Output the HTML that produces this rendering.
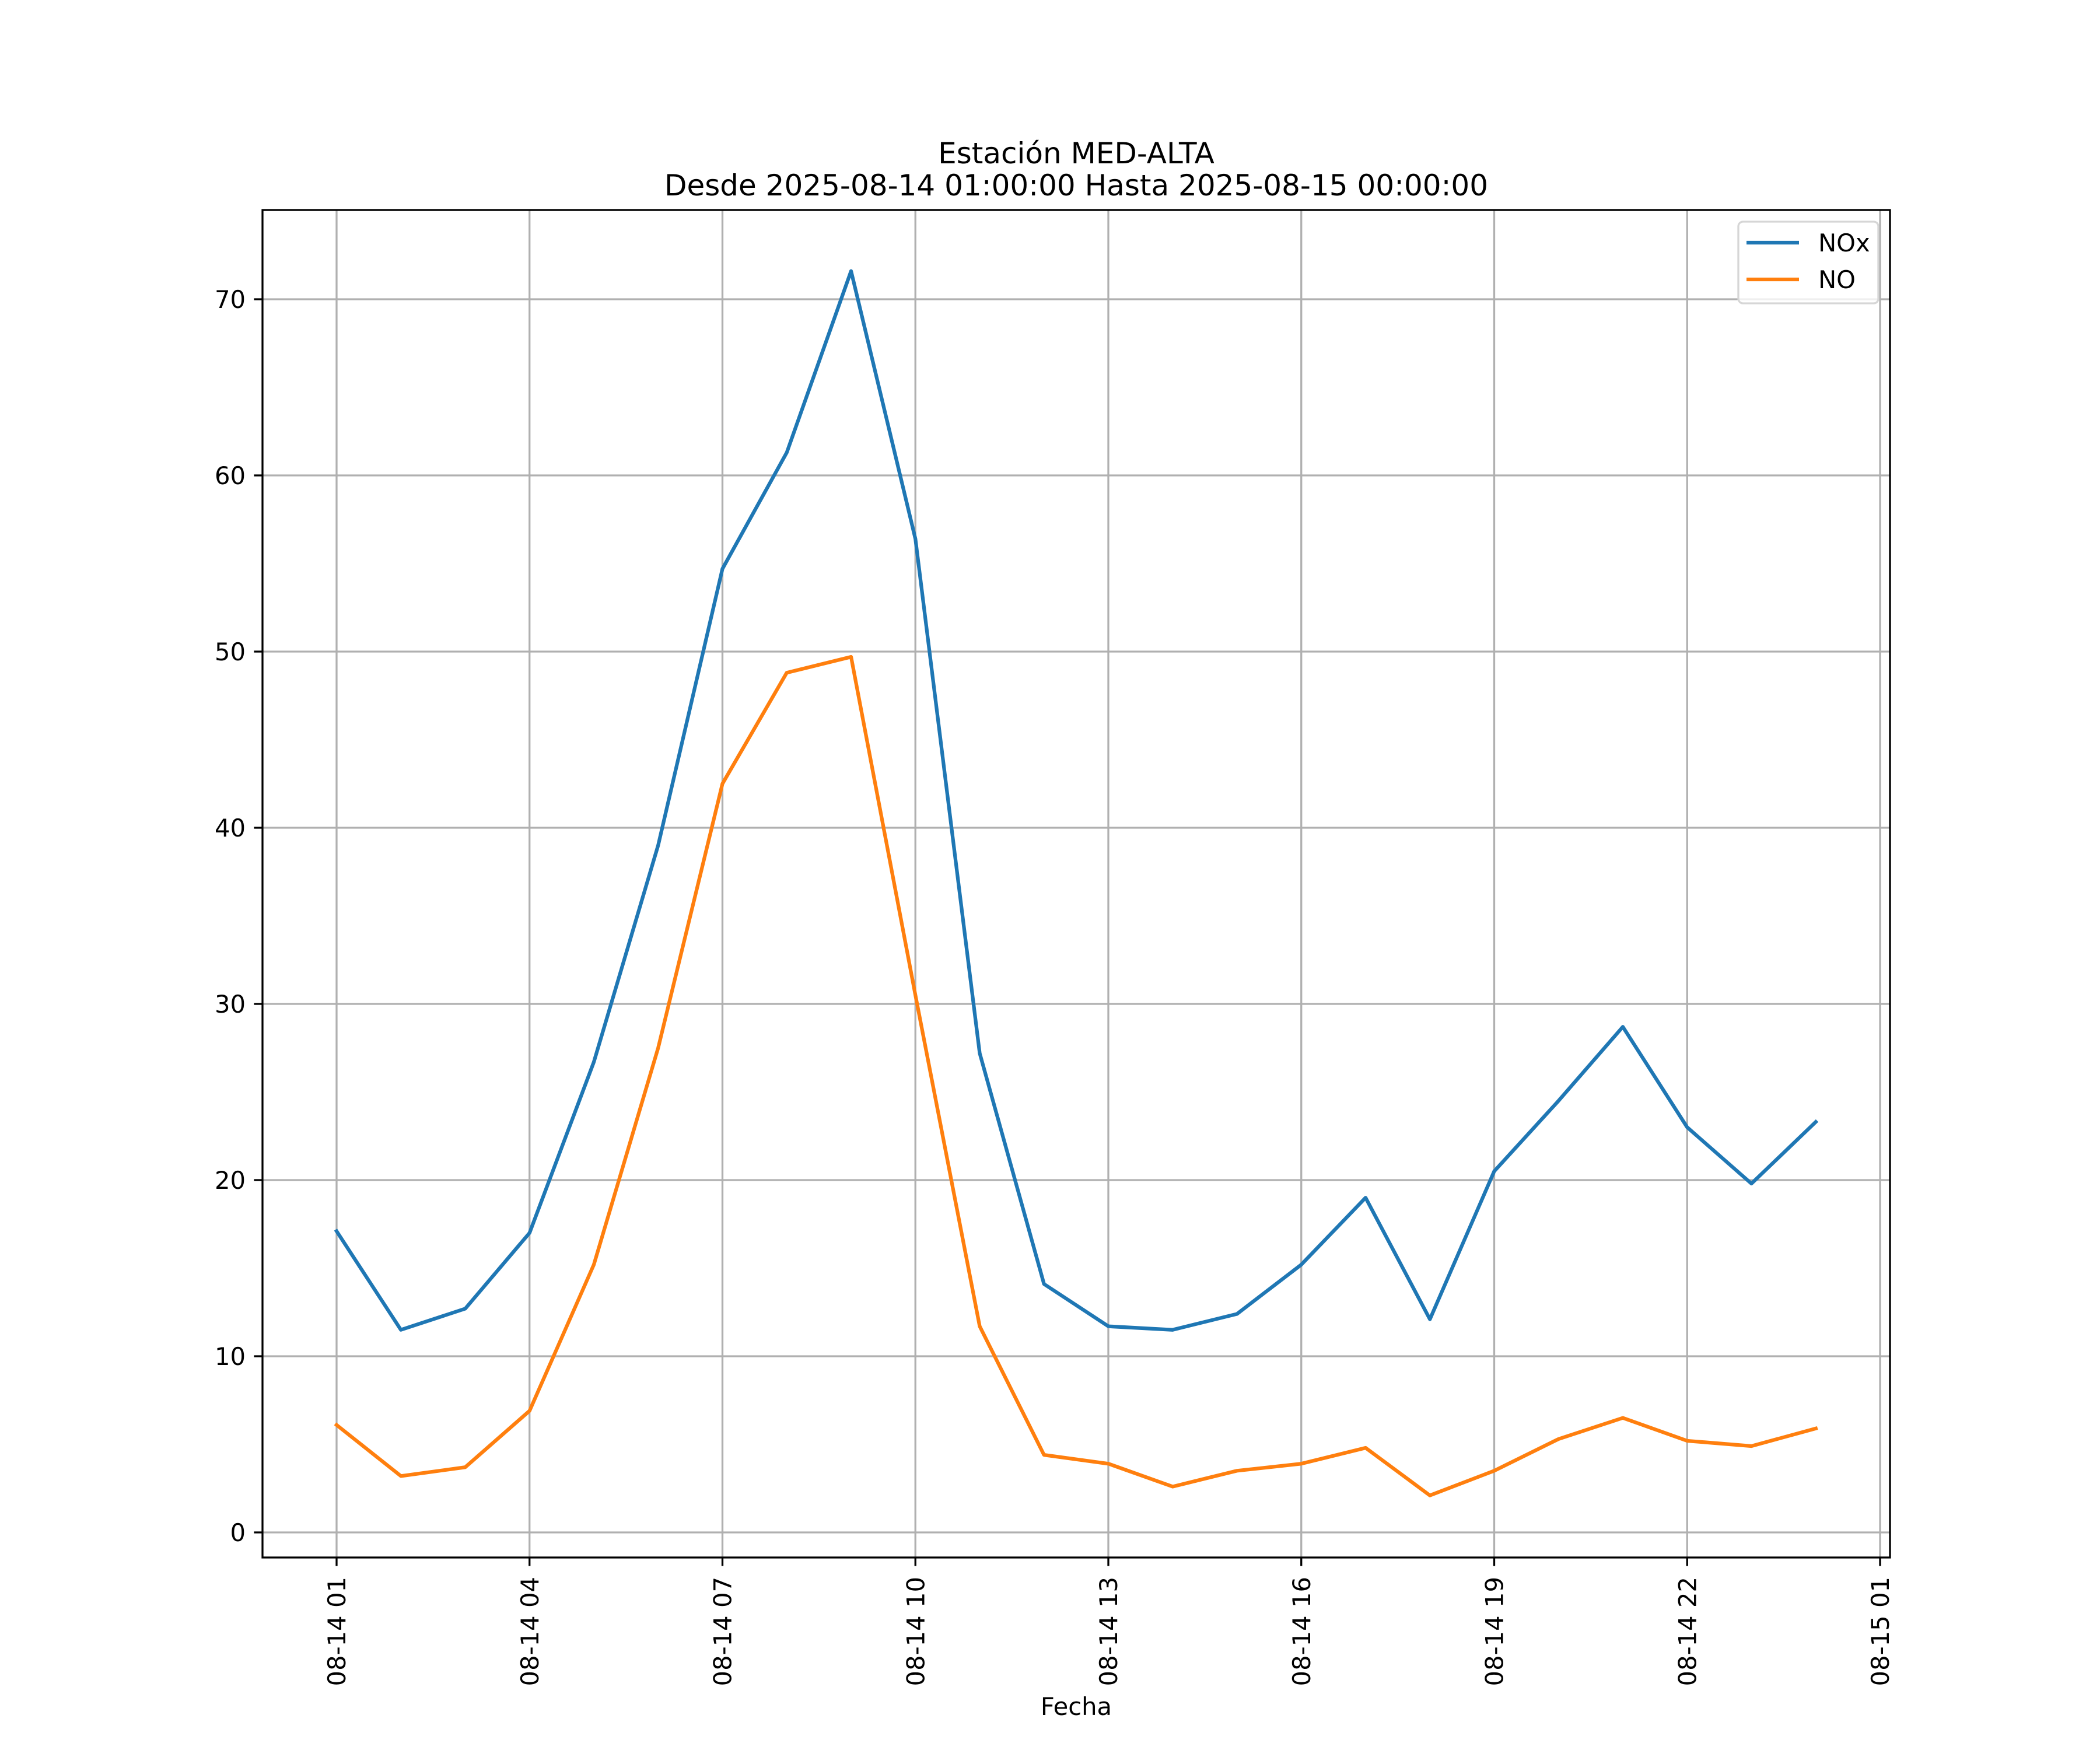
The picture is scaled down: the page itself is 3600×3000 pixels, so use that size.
<!DOCTYPE html>
<html><head><meta charset="utf-8"><style>
html,body{margin:0;padding:0;background:#fff;}
svg{display:block;font-family:"DejaVu Sans","Liberation Sans",sans-serif;}
</style></head><body>
<svg id="chart" width="3600" height="3000" viewBox="0 0 3600 3000" xmlns="http://www.w3.org/2000/svg">
<rect x="0" y="0" width="3600" height="3000" fill="#fff"/>
<g id="grid"></g>
<g id="series"></g>
<g id="axes"></g>
<text x="1845" y="280" font-size="50" text-anchor="middle">Estación MED-ALTA</text>
<text x="1845" y="335" font-size="50" text-anchor="middle">Desde 2025-08-14 01:00:00 Hasta 2025-08-15 00:00:00</text>
<text x="1845" y="2940" font-size="41.7" text-anchor="middle">Fecha</text>
<g>
<rect x="2980" y="380" width="240" height="140" rx="8" fill="#fff" fill-opacity="0.8" stroke="#d6d6d6" stroke-width="3.3"/>
<line x1="2994" y1="416" x2="3084" y2="416" stroke="#1f77b4" stroke-width="6.25"/>
<text x="3117" y="431" font-size="41.7">NOx</text>
<line x1="2994" y1="479" x2="3084" y2="479" stroke="#ff7f0e" stroke-width="6.25"/>
<text x="3117" y="494" font-size="41.7">NO</text>
</g>
</svg>
<script>
const hours = [1,2,3,4,5,6,7,8,9,10,11,12,13,14,15,16,17,18,19,20,21,22,23,24];
const noxValues = [17.1,11.5,12.7,17.0,26.7,39.0,54.7,61.3,71.6,56.4,27.2,14.1,11.7,11.5,12.4,15.2,19.0,12.1,20.5,24.5,28.7,23.0,19.8,23.3];
const noValues = [6.1,3.2,3.7,6.9,15.2,27.5,42.5,48.8,49.7,30.5,11.7,4.4,3.9,2.6,3.5,3.9,4.8,2.1,3.5,5.3,6.5,5.2,4.9,5.9];
const yTicks = [0,10,20,30,40,50,60,70];
const xTickHours = [1,4,7,10,13,16,19,22,25];
const xTickLabels = ["08-14 01","08-14 04","08-14 07","08-14 10","08-14 13","08-14 16","08-14 19","08-14 22","08-15 01"];

const NS="http://www.w3.org/2000/svg";
const L=450,R=3240,T=360,B=2670;
function xs(h){return 577+(h-1)*(3223-577)/24;}
function ys(v){return 2627-v*(2627-513)/70;}
function mk(tag,attrs,parent){const e=document.createElementNS(NS,tag);for(const k in attrs)e.setAttribute(k,attrs[k]);parent.appendChild(e);return e;}
const grid=document.getElementById('grid'),axes=document.getElementById('axes'),series=document.getElementById('series');
yTicks.forEach(v=>{
  const y=ys(v);
  const g=mk('line',{x1:L,x2:R,y1:y,y2:y,stroke:'#b0b0b0','stroke-width':3.3},grid);
  
  
  const t=mk('line',{x1:L-14.6,x2:L,y1:y,y2:y,stroke:'#000','stroke-width':3.3},axes);
  
  
  const lb=mk('text',{x:L-29,y:y+15,'font-size':41.7,'text-anchor':'end'},axes);
  lb.textContent=String(v);
  
  
});
xTickHours.forEach((h,i)=>{
  const x=xs(h);
  const g=mk('line',{x1:x,x2:x,y1:T,y2:B,stroke:'#b0b0b0','stroke-width':3.3},grid);
  
  
  const t=mk('line',{x1:x,x2:x,y1:B,y2:B+14.6,stroke:'#000','stroke-width':3.3},axes);
  
  
  const lb=mk('text',{x:0,y:0,'font-size':41.7,'text-anchor':'end',transform:`translate(${x+15},2703) rotate(-90)`},axes);
  lb.textContent=xTickLabels[i];
  
  
});
const frame=mk('rect',{x:L,y:T,width:R-L,height:B-T,fill:'none',stroke:'#000','stroke-width':3.3},axes);


function line(vals,color,name){
  const p=mk('polyline',{points:vals.map((v,i)=>xs(hours[i])+','+ys(v)).join(' '),fill:'none',stroke:color,'stroke-width':6.25,'stroke-linejoin':'round','stroke-linecap':'square'},series);
  
  
}
line(noxValues,'#1f77b4','nox-line');
line(noValues,'#ff7f0e','no-line');
</script>
</body></html>
